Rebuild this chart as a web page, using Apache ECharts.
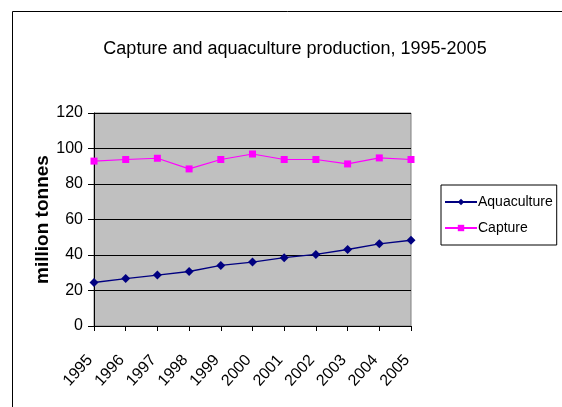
<!DOCTYPE html>
<html><head><meta charset="utf-8">
<script src="https://cdn.jsdelivr.net/npm/echarts@6/dist/echarts.min.js"></script>
<style>html,body{margin:0;padding:0;background:#fff}#c{width:562px;height:407px}</style>
</head><body><div id="c"></div>
<script>
const years = ['1995','1996','1997','1998','1999','2000','2001','2002','2003','2004','2005'];
const aquaculture = [24.5, 26.7, 28.7, 30.7, 34.1, 36.0, 38.5, 40.3, 43.1, 46.3, 48.3];
const capture = [92.9, 93.8, 94.5, 88.5, 93.8, 96.9, 93.8, 93.8, 91.3, 94.7, 93.8];
const yTicks = [0, 20, 40, 60, 80, 100, 120];

const chart = echarts.init(document.getElementById('c'));
const font = 'Liberation Sans, Arial, sans-serif';
chart.setOption({
  animation: false,
  backgroundColor: '#fff',
  graphic: [{type:'rect', shape:{x:12.5,y:11.5,width:600,height:500}, style:{fill:'none',stroke:'#000',lineWidth:1}, z:-1}],
  title: {text:'Capture and aquaculture production, 1995-2005', left:290, top:35, textAlign:'center',
    textStyle:{fontFamily:font, fontSize:18, fontWeight:'normal', color:'#000'}},
  grid: {left:94, right:151, top:113, bottom:81, show:true, backgroundColor:'#C0C0C0', borderColor:'#808080', borderWidth:1},
  legend: {left:441, top:185, orient:'vertical', itemGap:12, itemWidth:32, itemHeight:8,
    borderColor:'#000', borderWidth:1, padding:[10,4,10,3], borderRadius:0,
    textStyle:{fontFamily:font, fontSize:14, color:'#000', padding:[0,0,0,-4]}, data:['Aquaculture','Capture']},
  xAxis: {type:'category', data:years, boundaryGap:false,
    axisLine:{lineStyle:{color:'#000'}}, axisTick:{show:true, length:5, lineStyle:{color:'#000'}, alignWithLabel:true},
    axisLabel:{rotate:48, margin:27, padding:[0,6,0,0], fontFamily:font, fontSize:16, color:'#000', interval:0}, splitLine:{show:false}},
  yAxis: {type:'value', min:yTicks[0], max:yTicks[yTicks.length-1], interval:20,
    name:'million tonnes', nameLocation:'middle', nameGap:42, nameRotate:90, nameMoveOverlap:false,
    nameTextStyle:{fontFamily:font, fontSize:19, fontWeight:'bold', color:'#000'},
    axisLine:{show:true, lineStyle:{color:'#000'}}, axisTick:{show:true, length:6, lineStyle:{color:'#000'}},
    axisLabel:{fontFamily:font, fontSize:16, color:'#000', margin:11},
    splitLine:{show:true, lineStyle:{color:'#000', width:1}}},
  series: [
    {name:'Aquaculture', type:'line', data:aquaculture, color:'#000080', symbol:'diamond', symbolSize:9,
      lineStyle:{width:1.3, color:'#000080'}, itemStyle:{color:'#000080'}},
    {name:'Capture', type:'line', data:capture, color:'#FF00FF', symbol:'rect', symbolSize:7,
      lineStyle:{width:1.2, color:'#FF00FF'}, itemStyle:{color:'#FF00FF'}}
  ]
});
</script></body></html>
